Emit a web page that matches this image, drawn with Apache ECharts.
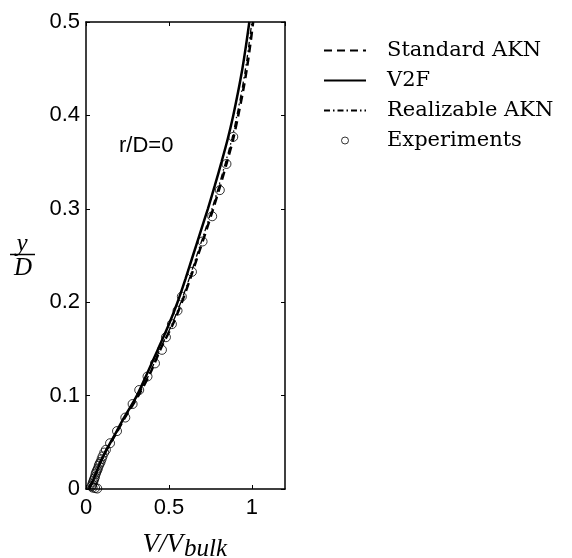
<!DOCTYPE html>
<html><head><meta charset="utf-8">
<script src="https://cdn.jsdelivr.net/npm/echarts@6/dist/echarts.min.js"></script>
<style>html,body{margin:0;padding:0;background:#fff}#c{width:572px;height:558px}</style>
</head><body><div id="c"></div>
<script>
// wall-normal position levels (y/D) at which the model curves are read
const yLevels = [0, 0.005, 0.01, 0.02, 0.03, 0.04, 0.05, 0.06, 0.075, 0.1, 0.125, 0.15, 0.175, 0.2, 0.225, 0.25, 0.275, 0.3, 0.325, 0.35, 0.375, 0.4, 0.425, 0.45, 0.475, 0.5];
const stdAKN  = [0.02, 0.03, 0.045, 0.067, 0.09, 0.118, 0.15, 0.183, 0.23, 0.316, 0.39, 0.45, 0.52, 0.578, 0.628, 0.675, 0.722, 0.767, 0.81, 0.85, 0.888, 0.918, 0.946, 0.97, 0.99, 1.008];
const v2f     = [0.02, 0.03, 0.045, 0.067, 0.09, 0.118, 0.148, 0.18, 0.225, 0.307, 0.372, 0.435, 0.497, 0.552, 0.6, 0.645, 0.69, 0.735, 0.777, 0.817, 0.855, 0.888, 0.917, 0.943, 0.965, 0.985];
const realAKN = [0.02, 0.03, 0.045, 0.067, 0.09, 0.118, 0.15, 0.183, 0.229, 0.314, 0.387, 0.447, 0.515, 0.572, 0.622, 0.668, 0.715, 0.76, 0.802, 0.842, 0.88, 0.91, 0.938, 0.962, 0.982, 1.0];
// experiments
const expV = [0.888, 0.847, 0.807, 0.761, 0.703, 0.639, 0.578, 0.552, 0.518, 0.482, 0.458, 0.416, 0.371, 0.321, 0.281, 0.237, 0.187, 0.145, 0.12, 0.11, 0.100, 0.094, 0.088, 0.082, 0.077, 0.072, 0.067, 0.062, 0.058, 0.054, 0.05, 0.046, 0.042, 0.038, 0.034, 0.04, 0.055, 0.068];
const expY = [0.377, 0.348, 0.320, 0.292, 0.265, 0.2325, 0.206, 0.191, 0.1765, 0.1625, 0.149, 0.1345, 0.1205, 0.106, 0.091, 0.0765, 0.062, 0.049, 0.042, 0.039, 0.035, 0.032, 0.029, 0.027, 0.025, 0.022, 0.020, 0.018, 0.016, 0.013, 0.011, 0.009, 0.007, 0.005, 0.003, 0.0015, 0.001, 0.0005];
const xTickLabels = ['0', '0.5', '1'];
const yTickLabels = ['0', '0.1', '0.2', '0.3', '0.4', '0.5'];
const seriesNames = ['Standard AKN', 'V2F', 'Realizable AKN', 'Experiments'];

const pairs = (xs, ys) => xs.map((v, i) => [v, ys[i]]);
const chart = echarts.init(document.getElementById('c'), null, {renderer: 'canvas'});

const axisCommon = {
  type: 'value',
  axisLine: {show: true, onZero: false, lineStyle: {color: '#000', width: 1.5}},
  axisTick: {show: true, inside: true, length: 4, lineStyle: {color: '#000', width: 1}},
  splitLine: {show: false}
};
const labelFont = {color: '#000', fontSize: 22, fontFamily: 'Liberation Sans'};

chart.setOption({
  animation: false,
  backgroundColor: '#fff',
  grid: {left: 86, top: 22, width: 199, height: 467, containLabel: false},
  xAxis: [
    Object.assign({}, axisCommon, {min: 0, max: 1.2, interval: 0.5, position: 'bottom',
      axisLabel: Object.assign({}, labelFont, {margin: 8, showMaxLabel: false,
        formatter: (v) => { const i = Math.round(v / 0.5); return (Math.abs(v - i * 0.5) < 1e-9 && xTickLabels[i] !== undefined) ? xTickLabels[i] : ''; }})}),
    Object.assign({}, axisCommon, {min: 0, max: 1.2, interval: 0.5, position: 'top', axisLabel: {show: false}})
  ],
  yAxis: [
    Object.assign({}, axisCommon, {min: 0, max: 0.5, interval: 0.1, position: 'left',
      axisLabel: Object.assign({}, labelFont, {margin: 6,
        formatter: (v) => yTickLabels[Math.round(v / 0.1)]})}),
    Object.assign({}, axisCommon, {min: 0, max: 0.5, interval: 0.1, position: 'right', axisLabel: {show: false}})
  ],
  legend: {
    orient: 'vertical', left: 318, top: 35,
    itemWidth: 42, itemHeight: 7, itemGap: 9,
    selectedMode: false,
    data: seriesNames.map((n) => n === 'Experiments'
      ? {name: n, icon: 'circle', itemStyle: {color: '#fff', borderColor: '#000', borderWidth: 1}}
      : {name: n, itemStyle: {opacity: 0}}),
    textStyle: {fontFamily: 'DejaVu Serif', fontSize: 21, color: '#000', lineHeight: 20, padding: [0, 0, 0, 16]}
  },
  series: [
    {name: seriesNames[0], type: 'line', data: pairs(stdAKN, yLevels), symbol: 'none', smooth: 0.3,
      itemStyle: {color: '#000'}, lineStyle: {color: '#000', width: 2.5, type: [8, 5]}, z: 3},
    {name: seriesNames[1], type: 'line', data: pairs(v2f, yLevels), symbol: 'none', smooth: 0.3,
      itemStyle: {color: '#000'}, lineStyle: {color: '#000', width: 2.5, type: 'solid'}, z: 2},
    {name: seriesNames[2], type: 'line', data: pairs(realAKN, yLevels), symbol: 'none', smooth: 0.3,
      itemStyle: {color: '#000'}, lineStyle: {color: '#000', width: 1.3, type: [6, 3, 1.5, 3]}, z: 4},
    {name: seriesNames[3], type: 'scatter', data: pairs(expV, expY), symbol: 'circle', symbolSize: 9,
      itemStyle: {color: 'rgba(0,0,0,0)', borderColor: '#000', borderWidth: 1}, z: 5}
  ],
  graphic: [
    {type: 'text', x: 119, y: 146, style: {text: 'r/D=0', font: '22px "Liberation Sans"', fill: '#000', verticalAlign: 'middle'}},
    {type: 'text', x: 22, y: 244, style: {text: 'y', font: 'italic 25px "Liberation Serif"', fill: '#000', align: 'center', verticalAlign: 'middle'}},
    {type: 'line', shape: {x1: 10, y1: 254.5, x2: 35, y2: 254.5}, style: {stroke: '#000', lineWidth: 1.5}},
    {type: 'text', x: 23, y: 268, style: {text: 'D', font: 'italic 25px "Liberation Serif"', fill: '#000', align: 'center', verticalAlign: 'middle'}},
    {type: 'text', x: 183, y: 545, style: {text: 'V/V', font: 'italic 27px "Liberation Serif"', fill: '#000', align: 'right', verticalAlign: 'middle'}},
    {type: 'text', x: 184, y: 549, style: {text: 'bulk', font: 'italic 25px "Liberation Serif"', fill: '#000', align: 'left', verticalAlign: 'middle'}}
  ]
});
</script>
</body></html>
